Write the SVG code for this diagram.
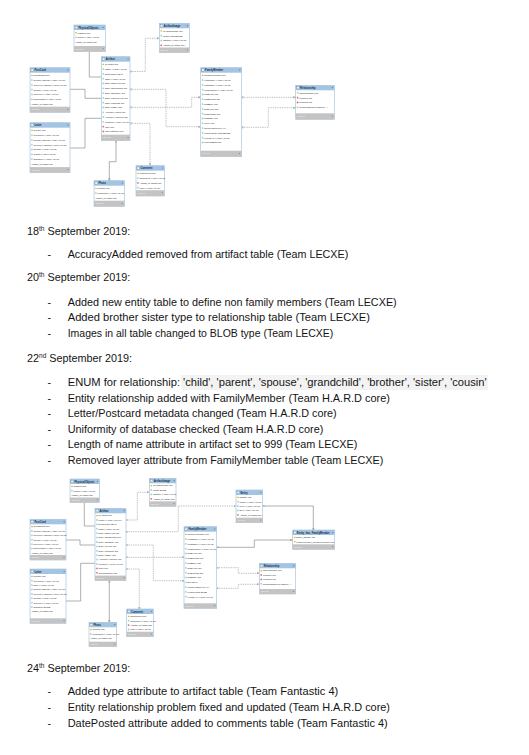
<svg xmlns="http://www.w3.org/2000/svg" xmlns:xlink="http://www.w3.org/1999/xlink" width="529" height="755" viewBox="0 0 529 755">
<style>
.tb{fill:#fff;stroke:#9dbcd8;stroke-width:.6}
.hd{fill:#a3c5e3}
.ft{fill:#c4c4c4}
.tt{font-family:"Liberation Sans",Arial,sans-serif;font-size:2.6px;font-weight:bold;fill:#1a2838}
.rw{font-family:"Liberation Sans",Arial,sans-serif;font-size:2.3px;fill:#262626}
.ix{font-family:"Liberation Sans",Arial,sans-serif;font-size:2.2px;fill:#f6f6f6}
.ln{fill:none;stroke:#858585;stroke-width:.65}
.dl{fill:none;stroke:#979797;stroke-width:.6;stroke-dasharray:1.4 .9}
.bd{font-family:"Liberation Sans",Arial,sans-serif;font-size:10.8px;fill:#141414}
.sp{font-size:6.5px}
</style>
<defs>
<g id="k"><rect x="0.2" y="0.3" width="1.6" height="1.2" rx="0.3" fill="#e8b30c"/></g>
<g id="c"><path d="M0.9,0 L1.8,0.9 L0.9,1.8 L0,0.9Z" fill="#9ad3e3" stroke="#5aa9c0" stroke-width="0.2"/></g>
<g id="f"><path d="M0.9,0 L1.8,0.9 L0.9,1.8 L0,0.9Z" fill="#e06a6a" stroke="#b03030" stroke-width="0.2"/></g>
<g id="hi"><rect width="2.4" height="2.2" fill="#eef4fa" stroke="#3f6f9f" stroke-width="0.25"/></g>
<g id="ha"><path d="M0,0 h1.6 l-0.8,1.1z" fill="#46698a"/></g>
<g id="fa"><path d="M0,0 h1.4 l-0.7,1z" fill="#6a6a6a"/></g>
<marker id="one" viewBox="0 0 6 6" refX="0" refY="3" markerWidth="2.4" markerHeight="2.4" orient="auto" markerUnits="userSpaceOnUse"><path d="M2,0 V6 M4,0 V6" fill="none" stroke="#888" stroke-width="0.8"/></marker>
<marker id="many" viewBox="0 0 6 6" refX="6" refY="3" markerWidth="2.4" markerHeight="2.4" orient="auto" markerUnits="userSpaceOnUse"><path d="M0,3 L6,0 M0,3 L6,6 M0,3 H6 M1,0 V6" fill="none" stroke="#888" stroke-width="0.8"/></marker>
</defs>
<rect width="529" height="755" fill="#fff"/>

<!-- ===== Diagram 1 connectors ===== -->
<g id="connectors-1">
<path class="ln" d="M89.3,51.7 V77 H101.3" marker-start="url(#many)" marker-end="url(#one)"/>
<path class="dl" d="M130,71.5 H145.3 V38.3 H159.3" marker-start="url(#one)" marker-end="url(#many)"/>
<path class="ln" d="M70,89.3 H85 V98.3 H101.3" marker-end="url(#one)"/>
<path class="ln" d="M70,148 H85 V118.3 H101.3" marker-end="url(#one)"/>
<path class="dl" d="M130,89.3 H166 V126.7 H200.7" marker-start="url(#one)" marker-end="url(#many)"/>
<path class="dl" d="M130,107.3 H191.7 V97.3 H200.7" marker-start="url(#one)" marker-end="url(#many)"/>
<path class="dl" d="M130,123.3 H150 V165.7" marker-start="url(#one)" marker-end="url(#many)"/>
<path class="ln" d="M116,140.7 V161.7 H109.3 V180.7" marker-start="url(#one)" marker-end="url(#many)"/>
<path class="dl" d="M241.7,97.3 H295.7" marker-start="url(#one)" marker-end="url(#many)"/>
<path class="dl" d="M241.7,127.3 H268.3 V107.7 H295.7" marker-start="url(#one)" marker-end="url(#many)"/>
</g>

<!-- ===== Diagram 1 tables ===== -->
<g id="d1-physicalobjects" transform="translate(74,25)">
<rect class="tb" width="31.3" height="26.7"/><rect class="hd" width="31.3" height="5"/>
<use href="#hi" x="1" y="1.3"/><text class="tt" x="4.4" y="3.7">PhysicalObjects</text><use href="#ha" x="28.5" y="2"/>
<use href="#k" x="1" y="6.7"/><text class="rw" x="3.6" y="8.5">idObject INT</text>
<use href="#c" x="1" y="11.5"/><text class="rw" x="3.6" y="13.3">Notes VARCHAR(45)</text>
<text class="rw" x="1" y="18.1">Artifact_idArtifact INT</text>
<rect class="ft" y="21" width="31.3" height="5.7"/><text class="ix" x="1.5" y="24.6">Indexes</text><use href="#fa" x="28.5" y="23.2"/>
</g>

<g id="d1-artifactimage" transform="translate(159.3,23.3)">
<rect class="tb" width="30" height="29.4"/><rect class="hd" width="30" height="5"/>
<use href="#hi" x="1" y="1.3"/><text class="tt" x="4.4" y="3.7">ArtifactImage</text><use href="#ha" x="27.2" y="2"/>
<use href="#k" x="1" y="6.7"/><text class="rw" x="3.6" y="8.5">idArtifactImage INT</text>
<use href="#c" x="1" y="11.5"/><text class="rw" x="3.6" y="13.3">Image LONGBLOB</text>
<use href="#c" x="1" y="16.3"/><text class="rw" x="3.6" y="18.1">Caption VARCHAR(45)</text>
<use href="#f" x="1" y="21.1"/><text class="rw" x="3.6" y="22.9">Artifact_idArtifact INT</text>
<rect class="ft" y="24.2" width="30" height="5.2"/><text class="ix" x="1.5" y="27.6">Indexes</text><use href="#fa" x="27.2" y="26.2"/>
</g>

<g id="d1-artifact" transform="translate(101.3,56.7)">
<rect class="tb" width="28.7" height="84"/><rect class="hd" width="28.7" height="5"/>
<use href="#hi" x="1" y="1.3"/><text class="tt" x="4.4" y="3.7">Artifact</text><use href="#ha" x="26" y="2"/>
<use href="#k" x="1" y="6.7"/><text class="rw" x="3.6" y="8.5">idArtifact INT</text>
<use href="#c" x="1" y="11.5"/><text class="rw" x="3.6" y="13.3">Name VARCHAR(45)</text>
<use href="#c" x="1" y="16.3"/><text class="rw" x="3.6" y="18.1">Description TEXT</text>
<use href="#c" x="1" y="21.1"/><text class="rw" x="3.6" y="22.9">Tags VARCHAR(45)</text>
<use href="#c" x="1" y="25.9"/><text class="rw" x="3.6" y="27.7">DateAddedYear INT</text>
<use href="#c" x="1" y="30.7"/><text class="rw" x="3.6" y="32.5">DateAddedMonth INT</text>
<use href="#c" x="1" y="35.5"/><text class="rw" x="3.6" y="37.3">DateAddedDay INT</text>
<use href="#c" x="1" y="40.3"/><text class="rw" x="3.6" y="42.1">DateAcquiredYear INT</text>
<use href="#c" x="1" y="45.1"/><text class="rw" x="3.6" y="46.9">DateAcqMonth INT</text>
<use href="#c" x="1" y="49.9"/><text class="rw" x="3.6" y="51.7">DateAcqDay INT</text>
<use href="#c" x="1" y="54.7"/><text class="rw" x="3.6" y="56.5">AccuracyAdded INT</text>
<use href="#c" x="1" y="59.5"/><text class="rw" x="3.6" y="61.3">AccuracyAcquired INT</text>
<use href="#c" x="1" y="64.3"/><text class="rw" x="3.6" y="66.1">Location VARCHAR(45)</text>
<use href="#f" x="1" y="69.1"/><text class="rw" x="3.6" y="70.9">User INT</text>
<use href="#f" x="1" y="73.9"/><text class="rw" x="3.6" y="75.7">CurrentOwner INT</text>
<rect class="ft" y="78" width="28.7" height="6"/><text class="ix" x="1.5" y="81.8">Indexes</text><use href="#fa" x="26" y="80.4"/>
</g>

<g id="d1-postcard" transform="translate(30,67.7)">
<rect class="tb" width="40" height="44.6"/><rect class="hd" width="40" height="5"/>
<use href="#hi" x="1" y="1.3"/><text class="tt" x="4.4" y="3.7">PostCard</text><use href="#ha" x="37.2" y="2"/>
<use href="#k" x="1" y="6.7"/><text class="rw" x="3.6" y="8.5">idPostCard INT</text>
<use href="#c" x="1" y="11.5"/><text class="rw" x="3.6" y="13.3">SenderAddress VARCHAR(45)</text>
<use href="#c" x="1" y="16.3"/><text class="rw" x="3.6" y="18.1">ReceiverAddress VARCHAR(45)</text>
<use href="#c" x="1" y="21.1"/><text class="rw" x="3.6" y="22.9">Sender VARCHAR(45)</text>
<use href="#c" x="1" y="25.9"/><text class="rw" x="3.6" y="27.7">Receiver VARCHAR(45)</text>
<use href="#c" x="1" y="30.7"/><text class="rw" x="3.6" y="32.5">DatePosted VARCHAR(45)</text>
<text class="rw" x="1" y="37.3">Artifact_idArtifact INT</text>
<rect class="ft" y="39" width="40" height="5.6"/><text class="ix" x="1.5" y="42.6">Indexes</text><use href="#fa" x="37.2" y="41.2"/>
</g>

<g id="d1-letter" transform="translate(30,122.7)">
<rect class="tb" width="40" height="50"/><rect class="hd" width="40" height="5"/>
<use href="#hi" x="1" y="1.3"/><text class="tt" x="4.4" y="3.7">Letter</text><use href="#ha" x="37.2" y="2"/>
<use href="#k" x="1" y="6.7"/><text class="rw" x="3.6" y="8.5">idLetter INT</text>
<use href="#c" x="1" y="11.5"/><text class="rw" x="3.6" y="13.3">Recipient VARCHAR(45)</text>
<use href="#c" x="1" y="16.3"/><text class="rw" x="3.6" y="18.1">SenderAddress VARCHAR(45)</text>
<use href="#c" x="1" y="21.1"/><text class="rw" x="3.6" y="22.9">ReceiverAddress VARCHAR(45)</text>
<use href="#c" x="1" y="25.9"/><text class="rw" x="3.6" y="27.7">Sender VARCHAR(45)</text>
<use href="#c" x="1" y="30.7"/><text class="rw" x="3.6" y="32.5">Pages VARCHAR(45)</text>
<use href="#c" x="1" y="35.5"/><text class="rw" x="3.6" y="37.3">Signature VARCHAR(45)</text>
<text class="rw" x="1" y="42.1">Artifact_idArtifact INT</text>
<rect class="ft" y="44.4" width="40" height="5.6"/><text class="ix" x="1.5" y="48">Indexes</text><use href="#fa" x="37.2" y="46.6"/>
</g>

<g id="d1-familymember" transform="translate(200.7,67.7)">
<rect class="tb" width="41" height="89"/><rect class="hd" width="41" height="5"/>
<use href="#hi" x="1" y="1.3"/><text class="tt" x="4.4" y="3.7">FamilyMember</text><use href="#ha" x="38.2" y="2"/>
<use href="#k" x="1" y="6.7"/><text class="rw" x="3.6" y="8.5">idFamilyMember INT</text>
<use href="#c" x="1" y="11.5"/><text class="rw" x="3.6" y="13.3">FirstName VARCHAR(45)</text>
<use href="#c" x="1" y="16.3"/><text class="rw" x="3.6" y="18.1">LastName VARCHAR(45)</text>
<use href="#c" x="1" y="21.1"/><text class="rw" x="3.6" y="22.9">MiddleName VARCHAR(45)</text>
<use href="#c" x="1" y="25.9"/><text class="rw" x="3.6" y="27.7">DOBYear INT</text>
<use href="#c" x="1" y="30.7"/><text class="rw" x="3.6" y="32.5">DOBMonth INT</text>
<use href="#c" x="1" y="35.5"/><text class="rw" x="3.6" y="37.3">DOBDay INT</text>
<use href="#c" x="1" y="40.3"/><text class="rw" x="3.6" y="42.1">DODYear INT</text>
<use href="#c" x="1" y="45.1"/><text class="rw" x="3.6" y="46.9">DODMonth INT</text>
<use href="#c" x="1" y="49.9"/><text class="rw" x="3.6" y="51.7">DODDay INT</text>
<use href="#c" x="1" y="54.7"/><text class="rw" x="3.6" y="56.5">Layer INT</text>
<use href="#c" x="1" y="59.5"/><text class="rw" x="3.6" y="61.3">gender ENUM('M','F')</text>
<use href="#c" x="1" y="64.3"/><text class="rw" x="3.6" y="66.1">ProfilePhoto LONGBLOB</text>
<use href="#c" x="1" y="69.1"/><text class="rw" x="3.6" y="70.9">KnownAs VARCHAR(45)</text>
<use href="#c" x="1" y="73.9"/><text class="rw" x="3.6" y="75.7">PlaceOfBirth INT</text>
<rect class="ft" y="83" width="41" height="6"/><text class="ix" x="1.5" y="86.8">Indexes</text><use href="#fa" x="38.2" y="85.4"/>
</g>

<g id="d1-relationship" transform="translate(295.7,85.3)">
<rect class="tb" width="38.6" height="34"/><rect class="hd" width="38.6" height="5"/>
<use href="#hi" x="1" y="1.3"/><text class="tt" x="4.4" y="3.7">Relationship</text><use href="#ha" x="35.8" y="2"/>
<use href="#k" x="1" y="6.7"/><text class="rw" x="3.6" y="8.5">idRelationship INT</text>
<use href="#f" x="1" y="11.5"/><text class="rw" x="3.6" y="13.3">Person1 INT</text>
<use href="#f" x="1" y="16.3"/><text class="rw" x="3.6" y="18.1">Person2 INT</text>
<use href="#c" x="1" y="21.1"/><text class="rw" x="3.6" y="22.9">RelationshipType ENUM(...)</text>
<rect class="ft" y="28" width="38.6" height="6"/><text class="ix" x="1.5" y="31.8">Indexes</text><use href="#fa" x="35.8" y="30.4"/>
</g>

<g id="d1-comment" transform="translate(136,165.7)">
<rect class="tb" width="28.3" height="30.3"/><rect class="hd" width="28.3" height="5"/>
<use href="#hi" x="1" y="1.3"/><text class="tt" x="4.4" y="3.7">Comment</text><use href="#ha" x="25.6" y="2"/>
<use href="#k" x="1" y="6.7"/><text class="rw" x="3.6" y="8.5">idComment INT</text>
<use href="#c" x="1" y="11.5"/><text class="rw" x="3.6" y="13.3">Comment VARCHAR(45)</text>
<use href="#f" x="1" y="16.3"/><text class="rw" x="3.6" y="18.1">Artifact_idArtifact INT</text>
<use href="#c" x="1" y="21.1"/><text class="rw" x="3.6" y="22.9">User VARCHAR(45)</text>
<rect class="ft" y="24.5" width="28.3" height="5.8"/><text class="ix" x="1.5" y="28.2">Indexes</text><use href="#fa" x="25.6" y="26.8"/>
</g>

<g id="d1-photo" transform="translate(94,180.7)">
<rect class="tb" width="30.3" height="25.7"/><rect class="hd" width="30.3" height="5"/>
<use href="#hi" x="1" y="1.3"/><text class="tt" x="4.4" y="3.7">Photo</text><use href="#ha" x="27.5" y="2"/>
<use href="#k" x="1" y="6.7"/><text class="rw" x="3.6" y="8.5">idPhoto INT</text>
<use href="#c" x="1" y="11.5"/><text class="rw" x="3.6" y="13.3">Resolution VARCHAR(45)</text>
<text class="rw" x="1" y="18.1">Artifact_idArtifact INT</text>
<rect class="ft" y="20" width="30.3" height="5.7"/><text class="ix" x="1.5" y="23.6">Indexes</text><use href="#fa" x="27.5" y="22.2"/>
</g>

<!-- ===== Text block 1 ===== -->
<g id="notes-1">
<text class="bd" x="27" y="235">18<tspan class="sp" dy="-3.8">th</tspan><tspan dy="3.8"> September 2019:</tspan></text>
<text class="bd" x="47.5" y="257.5">-</text>
<text class="bd" x="67.7" y="257.5" textLength="280.6" lengthAdjust="spacingAndGlyphs">AccuracyAdded removed from artifact table (Team LECXE)</text>
<text class="bd" x="27" y="281">20<tspan class="sp" dy="-3.8">th</tspan><tspan dy="3.8"> September 2019:</tspan></text>
<text class="bd" x="47.5" y="305.5">-</text>
<text class="bd" x="67.7" y="305.5" textLength="329" lengthAdjust="spacingAndGlyphs">Added new entity table to define non family members (Team LECXE)</text>
<text class="bd" x="47.5" y="321">-</text>
<text class="bd" x="67.7" y="321" textLength="302.3" lengthAdjust="spacingAndGlyphs">Added brother sister type to relationship table (Team LECXE)</text>
<text class="bd" x="47.5" y="337">-</text>
<text class="bd" x="67.7" y="337" textLength="265.6" lengthAdjust="spacingAndGlyphs">Images in all table changed to BLOB type (Team LECXE)</text>
<text class="bd" x="27" y="361.5">22<tspan class="sp" dy="-3.8">nd</tspan><tspan dy="3.8"> September 2019:</tspan></text>
<rect x="181" y="375" width="307" height="15" fill="#f3f3f3"/>
<text class="bd" x="47.5" y="386">-</text>
<text class="bd" x="67.7" y="386" textLength="419" lengthAdjust="spacingAndGlyphs">ENUM for relationship: 'child', 'parent', 'spouse', 'grandchild', 'brother', 'sister', 'cousin'</text>
<text class="bd" x="47.5" y="401.5">-</text>
<text class="bd" x="67.7" y="401.5" textLength="322.3" lengthAdjust="spacingAndGlyphs">Entity relationship added with FamilyMember (Team H.A.R.D core)</text>
<text class="bd" x="47.5" y="417">-</text>
<text class="bd" x="67.7" y="417" textLength="269" lengthAdjust="spacingAndGlyphs">Letter/Postcard metadata changed (Team H.A.R.D core)</text>
<text class="bd" x="47.5" y="432.5">-</text>
<text class="bd" x="67.7" y="432.5" textLength="255.6" lengthAdjust="spacingAndGlyphs">Uniformity of database checked (Team H.A.R.D core)</text>
<text class="bd" x="47.5" y="448">-</text>
<text class="bd" x="67.7" y="448" textLength="289.6" lengthAdjust="spacingAndGlyphs">Length of name attribute in artifact set to 999 (Team LECXE)</text>
<text class="bd" x="47.5" y="464">-</text>
<text class="bd" x="67.7" y="464" textLength="315.6" lengthAdjust="spacingAndGlyphs">Removed layer attribute from FamilyMember table (Team LECXE)</text>
</g>

<!-- ===== Diagram 2 connectors ===== -->
<g id="connectors-2">
<path class="ln" d="M84.3,502.5 V526 H95" marker-start="url(#many)" marker-end="url(#one)"/>
<path class="dl" d="M126,520 H137.3 V492.3 H149.3" marker-start="url(#one)" marker-end="url(#many)"/>
<path class="dl" d="M126,531.7 H178.3 V506 H236" marker-start="url(#one)" marker-end="url(#many)"/>
<path class="ln" d="M66,540 H80 V545 H95" marker-end="url(#one)"/>
<path class="ln" d="M66,601 H80.7 V563.3 H95" marker-end="url(#one)"/>
<path class="dl" d="M126,545 H153.3 V580.7 H184" marker-start="url(#one)" marker-end="url(#many)"/>
<path class="dl" d="M126,557.3 H184" marker-start="url(#one)" marker-end="url(#many)"/>
<path class="dl" d="M126,569 H139.3 V609" marker-start="url(#one)" marker-end="url(#many)"/>
<path class="ln" d="M109.3,580.6 V622.3" marker-start="url(#one)" marker-end="url(#many)"/>
<path class="ln" d="M262.7,506 H313.3 V530" marker-start="url(#one)" marker-end="url(#many)"/>
<path class="ln" d="M216.7,547.3 H254.3 V540 H292.7" marker-start="url(#one)" marker-end="url(#many)"/>
<path class="dl" d="M216.7,567.7 H238.3 V573.3 H259.3" marker-start="url(#one)" marker-end="url(#many)"/>
<path class="dl" d="M216.7,588.3 H238.3 V584.3 H259.3" marker-start="url(#one)" marker-end="url(#many)"/>
</g>

<!-- ===== Diagram 2 tables ===== -->
<g id="d2-physicalobjects" transform="translate(70,479)">
<rect class="tb" width="29.3" height="23.5"/><rect class="hd" width="29.3" height="5"/>
<use href="#hi" x="1" y="1.3"/><text class="tt" x="4.4" y="3.7">PhysicalObjects</text><use href="#ha" x="26.6" y="2"/>
<use href="#k" x="1" y="6.4"/><text class="rw" x="3.6" y="8.2">idObject INT</text>
<use href="#c" x="1" y="10.8"/><text class="rw" x="3.6" y="12.6">Notes VARCHAR(45)</text>
<text class="rw" x="1" y="17">Artifact_idArtifact INT</text>
<rect class="ft" y="18.5" width="29.3" height="5"/><text class="ix" x="1.5" y="21.8">Indexes</text><use href="#fa" x="26.6" y="20.5"/>
</g>

<g id="d2-artifactimage" transform="translate(149.3,478.3)">
<rect class="tb" width="26.7" height="28"/><rect class="hd" width="26.7" height="5"/>
<use href="#hi" x="1" y="1.3"/><text class="tt" x="4.4" y="3.7">ArtifactImage</text><use href="#ha" x="24" y="2"/>
<use href="#k" x="1" y="6.4"/><text class="rw" x="3.6" y="8.2">idArtifactImage INT</text>
<use href="#c" x="1" y="10.8"/><text class="rw" x="3.6" y="12.6">Image BLOB</text>
<use href="#c" x="1" y="15.2"/><text class="rw" x="3.6" y="17">Caption VARCHAR(45)</text>
<use href="#f" x="1" y="19.6"/><text class="rw" x="3.6" y="21.4">Artifact_idArtifact INT</text>
<rect class="ft" y="23" width="26.7" height="5"/><text class="ix" x="1.5" y="26.3">Indexes</text><use href="#fa" x="24" y="25"/>
</g>

<g id="d2-artifact" transform="translate(95,508.3)">
<rect class="tb" width="31" height="72.3"/><rect class="hd" width="31" height="5"/>
<use href="#hi" x="1" y="1.3"/><text class="tt" x="4.4" y="3.7">Artifact</text><use href="#ha" x="28.3" y="2"/>
<use href="#k" x="1" y="6.4"/><text class="rw" x="3.6" y="8.2">idArtifact INT</text>
<use href="#c" x="1" y="10.8"/><text class="rw" x="3.6" y="12.6">Name VARCHAR(999)</text>
<use href="#c" x="1" y="15.2"/><text class="rw" x="3.6" y="17">Description TEXT</text>
<use href="#c" x="1" y="19.6"/><text class="rw" x="3.6" y="21.4">Tags VARCHAR(45)</text>
<use href="#c" x="1" y="24"/><text class="rw" x="3.6" y="25.8">DateAddedYear INT</text>
<use href="#c" x="1" y="28.4"/><text class="rw" x="3.6" y="30.2">DateAddedMonth INT</text>
<use href="#c" x="1" y="32.8"/><text class="rw" x="3.6" y="34.6">DateAddedDay INT</text>
<use href="#c" x="1" y="37.2"/><text class="rw" x="3.6" y="39">DateAcqYear INT</text>
<use href="#c" x="1" y="41.6"/><text class="rw" x="3.6" y="43.4">DateAcqMonth INT</text>
<use href="#c" x="1" y="46"/><text class="rw" x="3.6" y="47.8">DateAcqDay INT</text>
<use href="#c" x="1" y="50.4"/><text class="rw" x="3.6" y="52.2">AccuracyAcquired INT</text>
<use href="#c" x="1" y="54.8"/><text class="rw" x="3.6" y="56.6">Location VARCHAR(45)</text>
<use href="#f" x="1" y="59.2"/><text class="rw" x="3.6" y="61">User INT</text>
<use href="#f" x="1" y="63.6"/><text class="rw" x="3.6" y="65.4">CurrentOwner INT</text>
<rect class="ft" y="67.3" width="31" height="5"/><text class="ix" x="1.5" y="70.6">Indexes</text><use href="#fa" x="28.3" y="69.3"/>
</g>

<g id="d2-postcard" transform="translate(30,519.3)">
<rect class="tb" width="36" height="40.7"/><rect class="hd" width="36" height="5"/>
<use href="#hi" x="1" y="1.3"/><text class="tt" x="4.4" y="3.7">PostCard</text><use href="#ha" x="33.3" y="2"/>
<use href="#k" x="1" y="6.4"/><text class="rw" x="3.6" y="8.2">idPostCard INT</text>
<use href="#c" x="1" y="10.8"/><text class="rw" x="3.6" y="12.6">SenderAddress VARCHAR(45)</text>
<use href="#c" x="1" y="15.2"/><text class="rw" x="3.6" y="17">ReceiverAddress VARCHAR(45)</text>
<use href="#c" x="1" y="19.6"/><text class="rw" x="3.6" y="21.4">Sender VARCHAR(45)</text>
<use href="#c" x="1" y="24"/><text class="rw" x="3.6" y="25.8">Receiver VARCHAR(45)</text>
<use href="#c" x="1" y="28.4"/><text class="rw" x="3.6" y="30.2">DatePosted VARCHAR(45)</text>
<text class="rw" x="1" y="34.6">Artifact_idArtifact INT</text>
<rect class="ft" y="35.7" width="36" height="5"/><text class="ix" x="1.5" y="39">Indexes</text><use href="#fa" x="33.3" y="37.7"/>
</g>

<g id="d2-letter" transform="translate(30,569)">
<rect class="tb" width="36" height="54.3"/><rect class="hd" width="36" height="5"/>
<use href="#hi" x="1" y="1.3"/><text class="tt" x="4.4" y="3.7">Letter</text><use href="#ha" x="33.3" y="2"/>
<use href="#k" x="1" y="6.4"/><text class="rw" x="3.6" y="8.2">idLetter INT</text>
<use href="#c" x="1" y="10.8"/><text class="rw" x="3.6" y="12.6">Recipient VARCHAR(45)</text>
<use href="#c" x="1" y="15.2"/><text class="rw" x="3.6" y="17">Date VARCHAR(45)</text>
<use href="#c" x="1" y="19.6"/><text class="rw" x="3.6" y="21.4">SenderAddress VARCHAR(45)</text>
<use href="#c" x="1" y="24"/><text class="rw" x="3.6" y="25.8">ReceiverAddress VARCHAR(45)</text>
<use href="#c" x="1" y="28.4"/><text class="rw" x="3.6" y="30.2">Sender VARCHAR(45)</text>
<use href="#c" x="1" y="32.8"/><text class="rw" x="3.6" y="34.6">Receiver VARCHAR(45)</text>
<use href="#c" x="1" y="37.2"/><text class="rw" x="3.6" y="39">Signature BLOB</text>
<text class="rw" x="1" y="43.4">Artifact_idArtifact INT</text>
<rect class="ft" y="49.3" width="36" height="5"/><text class="ix" x="1.5" y="52.6">Indexes</text><use href="#fa" x="33.3" y="51.3"/>
</g>

<g id="d2-photo" transform="translate(89,622.3)">
<rect class="tb" width="27.7" height="24.4"/><rect class="hd" width="27.7" height="5"/>
<use href="#hi" x="1" y="1.3"/><text class="tt" x="4.4" y="3.7">Photo</text><use href="#ha" x="25" y="2"/>
<use href="#k" x="1" y="6.4"/><text class="rw" x="3.6" y="8.2">idPhoto INT</text>
<use href="#c" x="1" y="10.8"/><text class="rw" x="3.6" y="12.6">Resolution VARCHAR(45)</text>
<text class="rw" x="1" y="17">Artifact_idArtifact INT</text>
<rect class="ft" y="19.4" width="27.7" height="5"/><text class="ix" x="1.5" y="22.7">Indexes</text><use href="#fa" x="25" y="21.4"/>
</g>

<g id="d2-comment" transform="translate(126.7,609)">
<rect class="tb" width="26.6" height="27.7"/><rect class="hd" width="26.6" height="5"/>
<use href="#hi" x="1" y="1.3"/><text class="tt" x="4.4" y="3.7">Comment</text><use href="#ha" x="23.9" y="2"/>
<use href="#k" x="1" y="6.4"/><text class="rw" x="3.6" y="8.2">idComment INT</text>
<use href="#c" x="1" y="10.8"/><text class="rw" x="3.6" y="12.6">Comment VARCHAR(45)</text>
<use href="#f" x="1" y="15.2"/><text class="rw" x="3.6" y="17">Artifact_idArtifact INT</text>
<use href="#c" x="1" y="19.6"/><text class="rw" x="3.6" y="21.4">User VARCHAR(45)</text>
<rect class="ft" y="22.7" width="26.6" height="5"/><text class="ix" x="1.5" y="26">Indexes</text><use href="#fa" x="23.9" y="24.7"/>
</g>

<g id="d2-familymember" transform="translate(184,526.7)">
<rect class="tb" width="32.7" height="81.6"/><rect class="hd" width="32.7" height="5"/>
<use href="#hi" x="1" y="1.3"/><text class="tt" x="4.4" y="3.7">FamilyMember</text><use href="#ha" x="30" y="2"/>
<use href="#k" x="1" y="6.7"/><text class="rw" x="3.6" y="8.5">idFamilyMember INT</text>
<use href="#c" x="1" y="11.5"/><text class="rw" x="3.6" y="13.3">FirstName VARCHAR(45)</text>
<use href="#c" x="1" y="16.3"/><text class="rw" x="3.6" y="18.1">LastName VARCHAR(45)</text>
<use href="#c" x="1" y="21.1"/><text class="rw" x="3.6" y="22.9">MiddleName VARCHAR(45)</text>
<use href="#c" x="1" y="25.9"/><text class="rw" x="3.6" y="27.7">DOBYear INT</text>
<use href="#c" x="1" y="30.7"/><text class="rw" x="3.6" y="32.5">DOBMonth INT</text>
<use href="#c" x="1" y="35.5"/><text class="rw" x="3.6" y="37.3">DOBDay INT</text>
<use href="#c" x="1" y="40.3"/><text class="rw" x="3.6" y="42.1">DODYear INT</text>
<use href="#c" x="1" y="45.1"/><text class="rw" x="3.6" y="46.9">DODMonth INT</text>
<use href="#c" x="1" y="49.9"/><text class="rw" x="3.6" y="51.7">DODDay INT</text>
<use href="#c" x="1" y="54.7"/><text class="rw" x="3.6" y="56.5">Bio TEXT</text>
<use href="#c" x="1" y="59.5"/><text class="rw" x="3.6" y="61.3">gender ENUM('M','F')</text>
<use href="#c" x="1" y="64.3"/><text class="rw" x="3.6" y="66.1">ProfilePhoto BLOB</text>
<use href="#c" x="1" y="69.1"/><text class="rw" x="3.6" y="70.9">KnownAs VARCHAR(45)</text>
<rect class="ft" y="76.6" width="32.7" height="5"/><text class="ix" x="1.5" y="79.9">Indexes</text><use href="#fa" x="30" y="78.6"/>
</g>

<g id="d2-entity" transform="translate(236,490)">
<rect class="tb" width="26.7" height="32.7"/><rect class="hd" width="26.7" height="5"/>
<use href="#hi" x="1" y="1.3"/><text class="tt" x="4.4" y="3.7">Entity</text><use href="#ha" x="24" y="2"/>
<use href="#k" x="1" y="6.4"/><text class="rw" x="3.6" y="8.2">idEntity INT</text>
<use href="#c" x="1" y="10.8"/><text class="rw" x="3.6" y="12.6">Name VARCHAR(45)</text>
<use href="#c" x="1" y="15.2"/><text class="rw" x="3.6" y="17">Type VARCHAR(45)</text>
<use href="#c" x="1" y="19.6"/><text class="rw" x="3.6" y="21.4">Bio VARCHAR(45)</text>
<use href="#f" x="1" y="24"/><text class="rw" x="3.6" y="25.8">Artifact_idArtifact INT</text>
<rect class="ft" y="27.7" width="26.7" height="5"/><text class="ix" x="1.5" y="31">Indexes</text><use href="#fa" x="24" y="29.7"/>
</g>

<g id="d2-entity-has-familymember" transform="translate(292.7,530)">
<rect class="tb" width="42" height="19.3"/><rect class="hd" width="42" height="5"/>
<use href="#hi" x="1" y="1.3"/><text class="tt" x="4.4" y="3.7">Entity_has_FamilyMember</text><use href="#ha" x="39.3" y="2"/>
<use href="#k" x="1" y="6.4"/><text class="rw" x="3.6" y="8.2">Entity_idEntity INT</text>
<use href="#k" x="1" y="10.8"/><text class="rw" x="3.6" y="12.6">FamilyMember_idFamilyMember INT</text>
<rect class="ft" y="14.3" width="42" height="5"/><text class="ix" x="1.5" y="17.6">Indexes</text><use href="#fa" x="39.3" y="16.3"/>
</g>

<g id="d2-relationship" transform="translate(259.3,563.3)">
<rect class="tb" width="36.4" height="30.7"/><rect class="hd" width="36.4" height="5"/>
<use href="#hi" x="1" y="1.3"/><text class="tt" x="4.4" y="3.7">Relationship</text><use href="#ha" x="33.7" y="2"/>
<use href="#k" x="1" y="6.4"/><text class="rw" x="3.6" y="8.2">idRelationship INT</text>
<use href="#f" x="1" y="10.8"/><text class="rw" x="3.6" y="12.6">Person1 INT</text>
<use href="#f" x="1" y="15.2"/><text class="rw" x="3.6" y="17">Person2 INT</text>
<use href="#c" x="1" y="19.6"/><text class="rw" x="3.6" y="21.4">RelationshipType ENUM(...)</text>
<rect class="ft" y="25.7" width="36.4" height="5"/><text class="ix" x="1.5" y="29">Indexes</text><use href="#fa" x="33.7" y="27.7"/>
</g>

<!-- ===== Text block 2 ===== -->
<g id="notes-2">
<text class="bd" x="27" y="672">24<tspan class="sp" dy="-3.8">th</tspan><tspan dy="3.8"> September 2019:</tspan></text>
<text class="bd" x="47.5" y="695">-</text>
<text class="bd" x="67.7" y="695" textLength="270.6" lengthAdjust="spacingAndGlyphs">Added type attribute to artifact table (Team Fantastic 4)</text>
<text class="bd" x="47.5" y="710.5">-</text>
<text class="bd" x="67.7" y="710.5" textLength="322.3" lengthAdjust="spacingAndGlyphs">Entity relationship problem fixed and updated (Team H.A.R.D core)</text>
<text class="bd" x="47.5" y="726.5">-</text>
<text class="bd" x="67.7" y="726.5" textLength="320" lengthAdjust="spacingAndGlyphs">DatePosted attribute added to comments table (Team Fantastic 4)</text>
</g>
</svg>
